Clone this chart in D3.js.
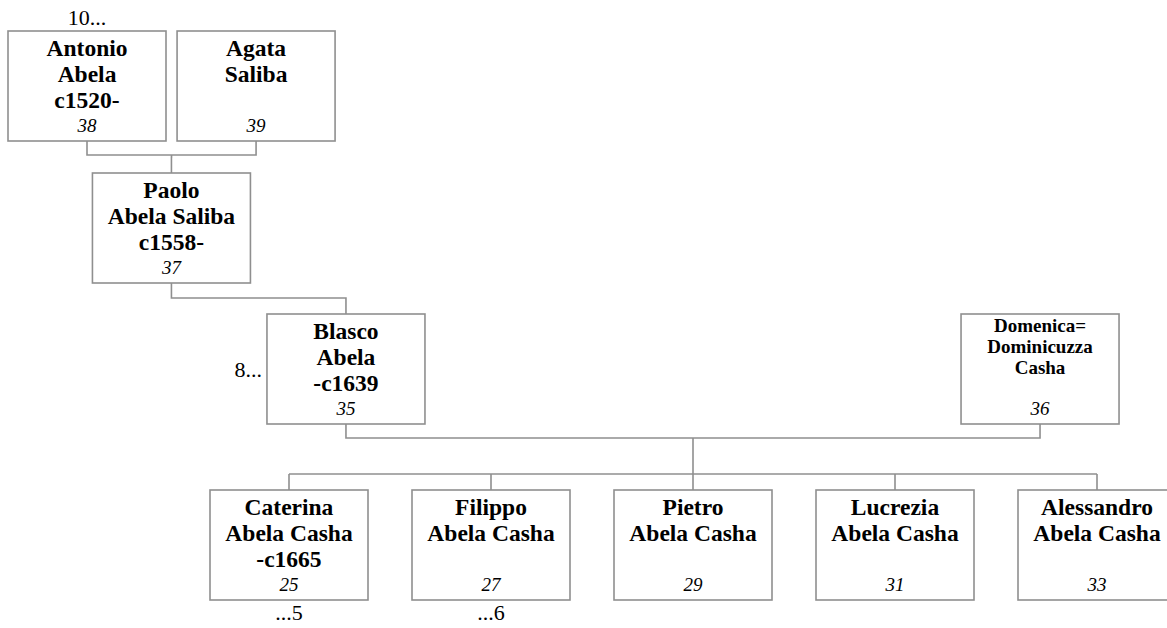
<!DOCTYPE html>
<html>
<head>
<meta charset="utf-8">
<script src="https://cdn.jsdelivr.net/npm/d3@7"></script>
<style>
  html, body { margin: 0; padding: 0; background: #fff; }
  svg { display: block; }
</style>
</head>
<body>
<div id="chart"></div>
<script>
// people in the tree, one entry per box
var ids = ['antonio', 'agata', 'paolo', 'blasco', 'domenica', 'caterina', 'filippo', 'pietro', 'lucrezia', 'alessandro'];
var nameLines = [
  ['Antonio', 'Abela'],
  ['Agata', 'Saliba'],
  ['Paolo', 'Abela Saliba'],
  ['Blasco', 'Abela'],
  ['Domenica=', 'Dominicuzza', 'Casha'],
  ['Caterina', 'Abela Casha'],
  ['Filippo', 'Abela Casha'],
  ['Pietro', 'Abela Casha'],
  ['Lucrezia', 'Abela Casha'],
  ['Alessandro', 'Abela Casha']
];
var dates = ['c1520-', '', 'c1558-', '-c1639', '', '-c1665', '', '', '', ''];
var refNumbers = [38, 39, 37, 35, 36, 25, 27, 29, 31, 33];
var generations = [0, 0, 1, 2, 2, 3, 3, 3, 3, 3];
// horizontal slot of each box, in units of the children's spacing
var slots = [-1, -0.163, -0.582, 0.282, 3.718, 0, 1, 2, 3, 4];

// relations
var couples = [['antonio', 'agata'], ['blasco', 'domenica']];
var parentLinks = [
  { parents: ['antonio', 'agata'], children: ['paolo'] },
  { parents: ['paolo'], children: ['blasco'] },
  { parents: ['blasco', 'domenica'], children: ['caterina', 'filippo', 'pietro', 'lucrezia', 'alessandro'] }
];

// continuation markers
var markers = [
  { id: 'antonio', text: '10...', side: 'top' },
  { id: 'blasco', text: '8...', side: 'left' },
  { id: 'caterina', text: '...5', side: 'bottom' },
  { id: 'filippo', text: '...6', side: 'bottom' }
];

var width = 1167, height = 628;
var boxW = 158, boxH = 110;
var lineColor = '#8f8f8f';
var serif = '"Liberation Serif", "Times New Roman", serif';

var x = d3.scaleLinear().domain([0, 4]).range([289, 1097]);
var rowTop = d3.scaleOrdinal().domain([0, 1, 2, 3]).range([31, 173, 314, 490]);

var people = ids.map(function (id, i) {
  var cx = x(slots[i]);
  var top = rowTop(generations[i]);
  return {
    id: id, lines: nameLines[i], date: dates[i], ref: refNumbers[i],
    cx: cx, x0: cx - boxW / 2, top: top, bottom: top + boxH
  };
});
var byId = {};
people.forEach(function (p) { byId[p.id] = p; });

var svg = d3.select('#chart').append('svg')
  .attr('width', width).attr('height', height);

var links = svg.append('g')
  .attr('fill', 'none')
  .attr('stroke', lineColor)
  .attr('stroke-width', 1.6);

// couple connectors: down from each partner, joined by a bar
var coupleMid = {};
couples.forEach(function (c) {
  var a = byId[c[0]], b = byId[c[1]];
  var y = a.bottom + 14;
  links.append('path')
    .attr('d', 'M' + a.cx + ',' + a.bottom + 'V' + y + 'H' + b.cx + 'V' + b.bottom);
  coupleMid[c.join('+')] = { x: (a.cx + b.cx) / 2, y: y };
});

// parent -> children connectors
parentLinks.forEach(function (l) {
  var src;
  if (l.parents.length === 2) {
    src = coupleMid[l.parents.join('+')];
  } else {
    var p = byId[l.parents[0]];
    src = { x: p.cx, y: p.bottom };
  }
  var kids = l.children.map(function (k) { return byId[k]; });
  var barY = kids[0].top - 16;
  if (kids.length === 1) {
    links.append('path')
      .attr('d', 'M' + src.x + ',' + src.y + 'V' + barY + 'H' + kids[0].cx + 'V' + kids[0].top);
  } else {
    links.append('path').attr('d', 'M' + src.x + ',' + src.y + 'V' + barY);
    var ext = d3.extent(kids, function (k) { return k.cx; });
    links.append('path').attr('d', 'M' + ext[0] + ',' + barY + 'H' + ext[1]);
    kids.forEach(function (k) {
      links.append('path').attr('d', 'M' + k.cx + ',' + barY + 'V' + k.top);
    });
  }
});

// boxes
var node = svg.selectAll('g.person')
  .data(people)
  .enter().append('g')
  .attr('class', 'person')
  .attr('transform', function (d) { return 'translate(' + d.x0 + ',' + d.top + ')'; });

node.append('rect')
  .attr('width', boxW).attr('height', boxH)
  .attr('fill', '#fff')
  .attr('stroke', lineColor)
  .attr('stroke-width', 1.6);

node.each(function (d) {
  var g = d3.select(this);
  // long hyphenated names get a smaller font
  var small = d.lines.some(function (s) { return s.indexOf('=') >= 0; });
  var fs = small ? 19 : 23.5, step = small ? 21 : 26, first = small ? 18 : 24.5;
  var lines = d.date ? d.lines.concat([d.date]) : d.lines;
  g.selectAll('text.name')
    .data(lines)
    .enter().append('text')
    .attr('class', 'name')
    .attr('x', boxW / 2)
    .attr('y', function (s, i) { return first + i * step; })
    .attr('text-anchor', 'middle')
    .style('font-family', serif)
    .style('font-weight', 'bold')
    .style('font-size', fs + 'px')
    .text(function (s) { return s; });
  g.append('text')
    .attr('x', boxW / 2)
    .attr('y', boxH - 9)
    .attr('text-anchor', 'middle')
    .style('font-family', serif)
    .style('font-style', 'italic')
    .style('font-size', '19px')
    .text(d.ref);
});

// continuation markers
svg.selectAll('text.marker')
  .data(markers)
  .enter().append('text')
  .attr('class', 'marker')
  .style('font-family', serif)
  .style('font-size', '22px')
  .attr('text-anchor', function (m) { return m.side === 'left' ? 'end' : 'middle'; })
  .attr('x', function (m) {
    var p = byId[m.id];
    return m.side === 'left' ? p.x0 - 5 : p.cx;
  })
  .attr('y', function (m) {
    var p = byId[m.id];
    if (m.side === 'top') return p.top - 6;
    if (m.side === 'bottom') return p.bottom + 20;
    return p.top + boxH / 2 + 8;
  })
  .text(function (m) { return m.text; });
</script>
</body>
</html>
